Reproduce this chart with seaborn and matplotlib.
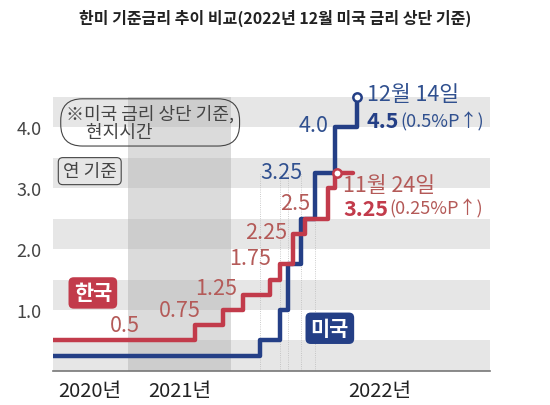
import matplotlib
matplotlib.use("Agg")
import matplotlib.pyplot as plt
import seaborn as sns
import pandas as pd

sns.set_theme(style="white")
plt.rcParams['font.family'] = ['Noto Sans CJK KR', 'DejaVu Sans']

# time index (arbitrary units along the timeline)
kr_x = [0, 42.5, 51, 57, 65, 68, 72, 75.5, 82.5, 84.5, 90]
kr_y = [0.5, 0.75, 1.0, 1.25, 1.5, 1.75, 2.25, 2.5, 3.0, 3.25, 3.25]
us_x = [0, 62, 68, 70.5, 74.5, 78.5, 84.5, 91]
us_y = [0.25, 0.5, 1.0, 1.75, 2.5, 3.25, 4.0, 4.5]
yticks = [1.0, 2.0, 3.0, 4.0]
years = ["2020년", "2021년", "2022년"]
year_x = [11, 38, 98]

RED = "#c23b4b"
RED_T = "#b45a58"
BLUE = "#243f86"
BLUE_T = "#30508f"

fig = plt.figure(figsize=(5.5, 4.06), dpi=100)
ax = fig.add_axes([0.096, 0.084, 0.795, 0.72])
ax.set_xlim(0, 131)
ax.set_ylim(0, 4.8)

for lo in [0, 1.0, 2.0, 3.0, 4.0]:
    ax.axhspan(lo, lo + 0.5, color="#e6e6e6", zorder=0, lw=0)
ax.axvspan(22.5, 53.5, ymax=4.5 / 4.8, color="#b0b0b0", alpha=0.45, zorder=0.5, lw=0)

for x in us_x[1:-2]:
    ax.axvline(x, ymax=3.25 / 4.8, color="#bbbbbb", lw=0.6, ls=":", zorder=1)

kr = pd.DataFrame({"x": kr_x, "y": kr_y})
us = pd.DataFrame({"x": us_x, "y": us_y})
sns.lineplot(data=us, x="x", y="y", drawstyle="steps-post", color=BLUE, lw=3.2, ax=ax, zorder=3)
sns.lineplot(data=kr, x="x", y="y", drawstyle="steps-post", color=RED, lw=3.2, ax=ax, zorder=4)
ax.plot([us_x[-1]], [us_y[-1]], "o", ms=6, mfc="white", mec=BLUE, mew=1.8, zorder=5)
ax.plot([kr_x[-2] + 0.5], [kr_y[-2]], "o", ms=6, mfc="white", mec=RED, mew=1.8, zorder=5)

fs = 15.5
for x, y, t in [(21.5, 0.75, "0.5"), (38, 1.0, "0.75"), (49, 1.36, "1.25"),
                (59, 1.85, "1.75"), (64, 2.28, "2.25"), (72.5, 2.75, "2.5")]:
    ax.text(x, y, t, color=RED_T, fontsize=fs, ha="center", va="center", zorder=6)
for x, y, t in [(68.5, 3.26, "3.25"), (78, 4.03, "4.0")]:
    ax.text(x, y, t, color=BLUE_T, fontsize=fs, ha="center", va="center", zorder=6)

ax.text(94, 4.55, "12월 14일", color=BLUE_T, fontsize=fs, va="center")
t1 = ax.text(94, 4.11, "4.5", color=BLUE, fontsize=fs, fontweight="bold", va="center")
ax.annotate("(0.5%P↑)", xy=(1, 0.5), xycoords=t1, xytext=(1, 0), textcoords="offset points",
            color=BLUE_T, fontsize=13, va="center", ha="left")
ax.text(87, 3.05, "11월 24일", color=RED_T, fontsize=fs, va="center")
t2 = ax.text(87, 2.67, "3.25", color=RED, fontsize=fs, fontweight="bold", va="center")
ax.annotate("(0.25%P↑)", xy=(1, 0.5), xycoords=t2, xytext=(1, 0), textcoords="offset points",
            color=RED_T, fontsize=13, va="center", ha="left")

ax.text(12, 1.28, "한국", color="white", fontsize=15, fontweight="bold", ha="center", va="center",
        bbox=dict(boxstyle="round,pad=0.25", fc=RED, ec="none"), zorder=6)
ax.text(83, 0.7, "미국", color="white", fontsize=15, fontweight="bold", ha="center", va="center",
        bbox=dict(boxstyle="round,pad=0.25", fc=BLUE, ec="none"), zorder=6)

ax.text(4, 4.08, "※미국 금리 상단 기준,\n     현지시간", color="#444444", fontsize=13, va="center",
        linespacing=1.0, bbox=dict(boxstyle="round,pad=0.3,rounding_size=1.2", fc="none", ec="#444444", lw=0.8), zorder=6)
ax.text(3, 3.28, "연 기준", color="#444444", fontsize=13, va="center",
        bbox=dict(boxstyle="round,pad=0.25", fc="none", ec="#444444", lw=0.8), zorder=6)

ax.set_yticks(yticks)
ax.set_yticklabels([f"{v:.1f}" for v in yticks], color="#444444", fontsize=13)
ax.set_xticks([])
ax.tick_params(axis="y", length=0, pad=8)
ax.set_xlabel("")
ax.set_ylabel("")
for s in ["top", "right", "left"]:
    ax.spines[s].set_visible(False)
ax.spines["bottom"].set_color("#777777")
ax.spines["bottom"].set_linewidth(1.2)

for x, t in zip(year_x, years):
    ax.text(x, -0.32, t, color="#222222", fontsize=14.5, ha="center", va="center")

fig.text(0.5, 0.955, "한미 기준금리 추이 비교(2022년 12월 미국 금리 상단 기준)", ha="center", va="center",
         fontsize=11.5, fontweight="bold", color="#222222")

fig.savefig("out.png", dpi=100, facecolor="white")
